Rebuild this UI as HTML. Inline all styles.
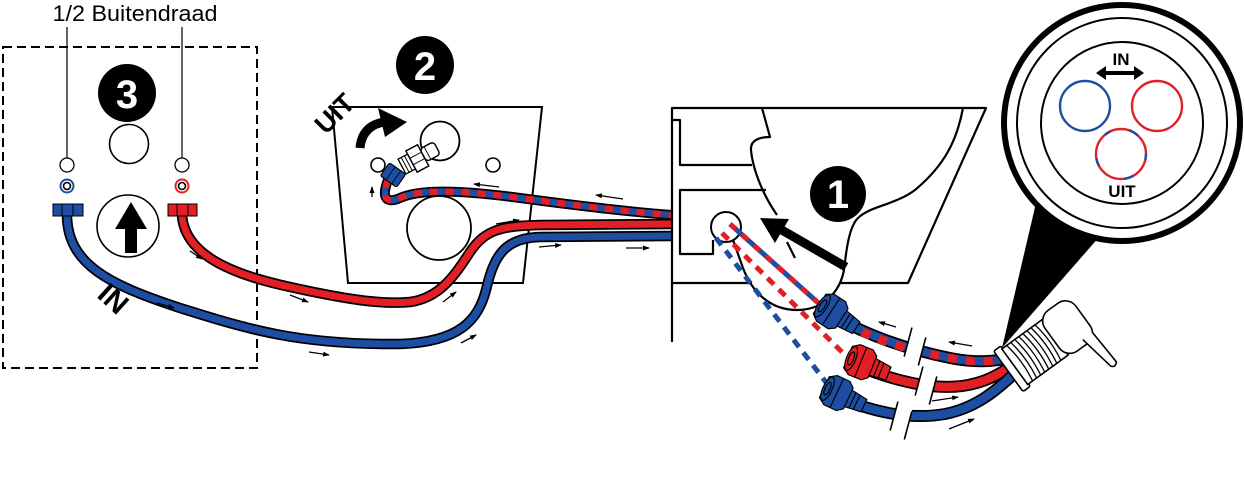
<!DOCTYPE html>
<html><head><meta charset="utf-8">
<style>
html,body{margin:0;padding:0;background:#fff;}
svg{display:block;}
text{font-family:"Liberation Sans",Arial,sans-serif;}
</style></head><body>
<svg width="1244" height="501" viewBox="0 0 1244 501" xmlns="http://www.w3.org/2000/svg">
<defs>
<marker id="ah" markerWidth="7" markerHeight="6" refX="6" refY="3" orient="auto" markerUnits="userSpaceOnUse">
<path d="M0,0.5 L7,3 L0,5.5 Z" fill="#000"/>
</marker>
</defs>
<rect width="1244" height="501" fill="#fff"/>

<!-- ===== Panel 3 ===== -->
<text x="135" y="21" font-size="22" text-anchor="middle" textLength="165" lengthAdjust="spacingAndGlyphs" fill="#000">1/2 Buitendraad</text>
<line x1="67" y1="27" x2="67" y2="158" stroke="#000" stroke-width="1.2"/>
<line x1="182" y1="27" x2="182" y2="158" stroke="#000" stroke-width="1.2"/>
<rect x="3" y="47" width="254" height="321" fill="none" stroke="#000" stroke-width="2" stroke-dasharray="9 5"/>

<circle cx="127" cy="93" r="29" fill="#000"/>
<text x="127" y="108" font-size="40" font-weight="bold" fill="#fff" text-anchor="middle">3</text>
<circle cx="129" cy="144" r="19.5" fill="none" stroke="#000" stroke-width="1.6"/>

<circle cx="67" cy="165" r="7" fill="#fff" stroke="#000" stroke-width="1.3"/>
<circle cx="182" cy="165" r="7" fill="#fff" stroke="#000" stroke-width="1.3"/>
<circle cx="67" cy="186" r="6.5" fill="none" stroke="#1d4ea3" stroke-width="2"/>
<circle cx="67" cy="186" r="3.5" fill="none" stroke="#000" stroke-width="1.6"/>
<circle cx="182" cy="186" r="6.5" fill="none" stroke="#e31e24" stroke-width="2"/>
<circle cx="182" cy="186" r="3.5" fill="none" stroke="#000" stroke-width="1.6"/>

<circle cx="128" cy="226" r="31" fill="#fff" stroke="#000" stroke-width="1.6"/>
<polygon points="131,202 147,229 137,229 137,253 125,253 125,229 115,229" fill="#000"/>

<!-- ===== Panel 2 ===== -->
<polygon points="332,107 542,107 523,283 348,283" fill="#fff" stroke="#000" stroke-width="2"/>
<circle cx="425" cy="65" r="29" fill="#000"/>
<text x="425" y="80" font-size="40" font-weight="bold" fill="#fff" text-anchor="middle">2</text>
<circle cx="440" cy="141" r="19.5" fill="none" stroke="#000" stroke-width="1.8"/>
<circle cx="378" cy="165" r="7" fill="none" stroke="#000" stroke-width="1.6"/>
<circle cx="493" cy="165" r="7" fill="none" stroke="#000" stroke-width="1.6"/>
<circle cx="439" cy="228" r="32" fill="none" stroke="#000" stroke-width="1.8"/>

<g transform="translate(334,113) rotate(-45)">
<text x="0" y="10" font-size="27" font-weight="bold" text-anchor="middle" fill="#000">UIT</text>
</g>
<path d="M360,148 Q362,126 384,122" fill="none" stroke="#000" stroke-width="9"/>
<polygon points="378,108 407,122 385,137" fill="#000"/>

<!-- white fitting -->
<g transform="translate(420,157) rotate(-28) scale(1.2)">
<rect x="-17" y="-7" width="9" height="14" fill="#fff" stroke="#000" stroke-width="1.1"/>
<line x1="-14" y1="-7" x2="-14" y2="7" stroke="#000" stroke-width="0.8"/>
<line x1="-11" y1="-7" x2="-11" y2="7" stroke="#000" stroke-width="0.8"/>
<rect x="-8" y="-10" width="11" height="20" fill="#fff" stroke="#000" stroke-width="1.2"/>
<line x1="-8" y1="-3" x2="3" y2="-3" stroke="#000" stroke-width="0.8"/>
<line x1="-8" y1="3" x2="3" y2="3" stroke="#000" stroke-width="0.8"/>
<rect x="3" y="-6" width="13" height="12" rx="3" fill="#fff" stroke="#000" stroke-width="1.2"/>
<line x1="7" y1="-6" x2="7" y2="6" stroke="#000" stroke-width="0.8"/>
</g>

<!-- ===== Hoses left ===== -->
<g fill="none" stroke-linecap="butt">
<path d="M67,216 C68,265 110,285 180,308 C250,330 300,345 400,344 C460,342 478,320 486,290 C494,255 505,238 540,237 L672,236" stroke="#000" stroke-width="10.5"/>
<path d="M67,216 C68,265 110,285 180,308 C250,330 300,345 400,344 C460,342 478,320 486,290 C494,255 505,238 540,237 L672,236" stroke="#1d4ea3" stroke-width="7"/>
<path d="M182,216 C185,250 220,272 290,287 C340,298 380,305 410,302 C440,298 455,275 470,252 C485,230 500,226 540,225 L672,224" stroke="#000" stroke-width="10.5"/>
<path d="M182,216 C185,250 220,272 290,287 C340,298 380,305 410,302 C440,298 455,275 470,252 C485,230 500,226 540,225 L672,224" stroke="#e31e24" stroke-width="7"/>
<path d="M388,180 C382,195 384,205 400,198 C420,189 460,190 520,198 C580,206 630,212 672,215" stroke="#000" stroke-width="10"/>
<path d="M388,180 C382,195 384,205 400,198 C420,189 460,190 520,198 C580,206 630,212 672,215" stroke="#1d4ea3" stroke-width="6.5"/>
<path d="M388,180 C382,195 384,205 400,198 C420,189 460,190 520,198 C580,206 630,212 672,215" stroke="#e31e24" stroke-width="6.5" stroke-dasharray="8 8"/>
</g>

<!-- fittings panel 3 -->
<rect x="53" y="204" width="30" height="12" fill="#1d4ea3" stroke="#000" stroke-width="1"/>
<line x1="62" y1="204" x2="62" y2="216" stroke="#000" stroke-width="1"/>
<line x1="73" y1="204" x2="73" y2="216" stroke="#000" stroke-width="1"/>
<rect x="168" y="204" width="29" height="12" fill="#e31e24" stroke="#000" stroke-width="1"/>
<line x1="177" y1="204" x2="177" y2="216" stroke="#000" stroke-width="1"/>
<line x1="188" y1="204" x2="188" y2="216" stroke="#000" stroke-width="1"/>

<!-- blue elbow nut panel 2 -->
<g transform="translate(393,175) rotate(35)">
<rect x="-10" y="-8" width="20" height="16" rx="2" fill="#1d4ea3" stroke="#000" stroke-width="1.1"/>
<line x1="-3" y1="-8" x2="-3" y2="8" stroke="#000" stroke-width="0.8"/>
<line x1="4" y1="-8" x2="4" y2="8" stroke="#000" stroke-width="0.8"/>
</g>

<!-- IN label -->
<g transform="translate(114,298) rotate(42)">
<text x="0" y="11" font-size="29" font-weight="bold" text-anchor="middle" fill="#000">IN</text>
</g>

<!-- small arrows -->
<g stroke="#000" stroke-width="1.3" fill="none" marker-end="url(#ah)">
<path d="M190,251 L202,259"/>
<path d="M157,303 L174,308"/>
<path d="M290,295 L308,302"/>
<path d="M309,352 L329,355"/>
<path d="M443,302 L456,292"/>
<path d="M461,343 L476,335"/>
<path d="M496,224 L519,220"/>
<path d="M539,247 L561,245"/>
<path d="M626,248 L649,248"/>
<path d="M499,187 L474,184"/>
<path d="M623,199 L596,195"/>
<path d="M372,197 L372,187"/>
<path d="M896,327 L879,322"/>
<path d="M972,346 L949,342"/>
<path d="M932,401 L958,397"/>
<path d="M949,429 L974,419"/>
</g>

<!-- ===== Toilet (1) ===== -->
<g fill="none" stroke="#000" stroke-width="2.2" stroke-linejoin="round">
<path d="M672,342 L672,108 L986,108 L908,283 L840,283"/>
<path d="M672,283 L752,283"/>
<path d="M672,120 L680,120 L680,165 L752,165"/>
<path d="M766,190 L680,190 L680,254 L713,254 L713,240"/>
<path d="M762,108 L770,137 C760,137 750,140 751,150 C753,172 765,198 777,215"/>
<path d="M787,242 L795,258"/>
<path d="M963,108 C957,140 945,165 915,190 C895,205 870,206 858,218 C850,226 847,245 845,262 C843,290 825,310 797,310 C770,310 752,292 743,268 L733,240"/>
</g>
<circle cx="726" cy="227" r="15" fill="none" stroke="#000" stroke-width="2"/>
<circle cx="838" cy="194" r="28" fill="#000"/>
<text x="838" y="208" font-size="40" font-weight="bold" fill="#fff" text-anchor="middle">1</text>
<line x1="846" y1="267" x2="780" y2="229" stroke="#000" stroke-width="9"/>
<polygon points="760,218 789,219 775,243" fill="#000"/>

<!-- dashed lines -->
<g fill="none" stroke-width="5">
<path d="M730,224 L824,308" stroke="#1d4ea3"/>
<path d="M730,224 L824,308" stroke="#e31e24" stroke-dasharray="8 8"/>
<path d="M722,233 L845,355" stroke="#e31e24" stroke-dasharray="9 7"/>
<path d="M716,238 L828,385" stroke="#1d4ea3" stroke-dasharray="9 7"/>
</g>

<!-- ===== Right hoses ===== -->
<g fill="none">
<path d="M836,318 C865,333 900,348 950,358 C975,363 995,362 1012,357" stroke="#000" stroke-width="12"/>
<path d="M836,318 C865,333 900,348 950,358 C975,363 995,362 1012,357" stroke="#1d4ea3" stroke-width="8.5"/>
<path d="M862,332 C880,340 900,348 950,358 C975,363 995,362 1012,357" stroke="#e31e24" stroke-width="8.5" stroke-dasharray="9 9"/>
<path d="M868,370 C895,380 930,390 962,386 C985,383 1000,374 1014,364" stroke="#000" stroke-width="12"/>
<path d="M868,370 C895,380 930,390 962,386 C985,383 1000,374 1014,364" stroke="#e31e24" stroke-width="8.5"/>
<path d="M845,400 C875,412 910,420 945,414 C975,408 995,392 1016,372" stroke="#000" stroke-width="12"/>
<path d="M845,400 C875,412 910,420 945,414 C975,408 995,392 1016,372" stroke="#1d4ea3" stroke-width="8.5"/>
</g>

<!-- nuts -->
<g stroke="#000" stroke-width="1">
<g transform="translate(835,314) rotate(33) scale(1.15)">
<path d="M6,-8 L22,-6 L22,6 L6,8 Z" fill="#1d4ea3"/>
<line x1="11" y1="-7" x2="11" y2="7"/><line x1="15" y1="-6.5" x2="15" y2="6.5"/>
<path d="M-16,-10 L-10,-14 L2,-14 L7,-10 L7,10 L2,14 L-10,14 L-16,10 Z" fill="#1d4ea3"/>
<line x1="-4" y1="-14" x2="-4" y2="14"/>
<ellipse cx="-13" cy="0" rx="4" ry="11" fill="#1d4ea3"/>
<ellipse cx="-13" cy="0" rx="2.2" ry="6" fill="#1d4ea3"/>
</g>
<g transform="translate(865,364) rotate(22) scale(1.15)">
<path d="M6,-8 L22,-6 L22,6 L6,8 Z" fill="#e31e24"/>
<line x1="11" y1="-7" x2="11" y2="7"/><line x1="15" y1="-6.5" x2="15" y2="6.5"/>
<path d="M-16,-10 L-10,-14 L2,-14 L7,-10 L7,10 L2,14 L-10,14 L-16,10 Z" fill="#e31e24"/>
<line x1="-4" y1="-14" x2="-4" y2="14"/>
<ellipse cx="-13" cy="0" rx="4" ry="11" fill="#e31e24"/>
<ellipse cx="-13" cy="0" rx="2.2" ry="6" fill="#e31e24"/>
</g>
<g transform="translate(841,395) rotate(25) scale(1.15)">
<path d="M6,-8 L22,-6 L22,6 L6,8 Z" fill="#1d4ea3"/>
<line x1="11" y1="-7" x2="11" y2="7"/><line x1="15" y1="-6.5" x2="15" y2="6.5"/>
<path d="M-16,-10 L-10,-14 L2,-14 L7,-10 L7,10 L2,14 L-10,14 L-16,10 Z" fill="#1d4ea3"/>
<line x1="-4" y1="-14" x2="-4" y2="14"/>
<ellipse cx="-13" cy="0" rx="4" ry="11" fill="#1d4ea3"/>
<ellipse cx="-13" cy="0" rx="2.2" ry="6" fill="#1d4ea3"/>
</g>
</g>

<!-- cable ties -->
<g stroke="#000" stroke-width="1.6">
<g transform="translate(915,347) rotate(15)">
<rect x="-8" y="-16" width="16" height="32" fill="#fff" stroke="none"/>
<line x1="-8" y1="-18" x2="-8" y2="12"/><line x1="8" y1="-12" x2="8" y2="17"/>
</g>
<g transform="translate(926,386) rotate(15)">
<rect x="-8" y="-16" width="16" height="32" fill="#fff" stroke="none"/>
<line x1="-8" y1="-18" x2="-8" y2="12"/><line x1="8" y1="-12" x2="8" y2="17"/>
</g>
<g transform="translate(901,421) rotate(15)">
<rect x="-8" y="-16" width="16" height="32" fill="#fff" stroke="none"/>
<line x1="-8" y1="-18" x2="-8" y2="12"/><line x1="8" y1="-12" x2="8" y2="17"/>
</g>
</g>

<!-- ===== Magnifier ===== -->
<polygon points="1036,203 1100,236 1002,348" fill="#000"/>
<circle cx="1122" cy="123" r="118" fill="#fff" stroke="#000" stroke-width="6"/>
<circle cx="1122" cy="123" r="105" fill="none" stroke="#000" stroke-width="2"/>
<circle cx="1122" cy="123" r="81" fill="none" stroke="#000" stroke-width="2"/>
<text x="1121" y="65" font-size="17" font-weight="bold" text-anchor="middle" fill="#000">IN</text>
<line x1="1103" y1="73" x2="1137" y2="73" stroke="#000" stroke-width="4"/>
<polygon points="1096,73 1106,66 1106,80" fill="#000"/>
<polygon points="1144,73 1134,66 1134,80" fill="#000"/>
<circle cx="1085" cy="106" r="25" fill="none" stroke="#1d4ea3" stroke-width="2.4"/>
<circle cx="1157" cy="106" r="25" fill="none" stroke="#e31e24" stroke-width="2.4"/>
<circle cx="1121" cy="154" r="25" fill="none" stroke="#e31e24" stroke-width="2.4"/>
<circle cx="1121" cy="154" r="25" fill="none" stroke="#1d4ea3" stroke-width="2.4" stroke-dasharray="6 20 10 30 8 26"/>
<text x="1122" y="197" font-size="17" font-weight="bold" text-anchor="middle" fill="#000">UIT</text>

<!-- ===== Gland ===== -->
<g transform="translate(1035,352) rotate(-36)" stroke="#000" stroke-width="1.6" fill="#fff">
<rect x="-33" y="-25" width="9" height="50" rx="2"/>
<rect x="-25" y="-22" width="50" height="44"/>
<g fill="none" stroke-width="1.3">
<path d="M-19,-22 Q-15,0 -19,22"/>
<path d="M-14,-22 Q-10,0 -14,22"/>
<path d="M-9,-22 Q-5,0 -9,22"/>
<path d="M-4,-22 Q0,0 -4,22"/>
<path d="M1,-22 Q5,0 1,22"/>
<path d="M6,-22 Q10,0 6,22"/>
<path d="M11,-22 Q15,0 11,22"/>
<path d="M16,-22 Q20,0 16,22"/>
</g>
<rect x="22" y="-26" width="38" height="50" rx="13"/>
<path d="M46,18 L53,56 Q56,60 60,56 L58,18" />
</g>

</svg>
</body></html>
